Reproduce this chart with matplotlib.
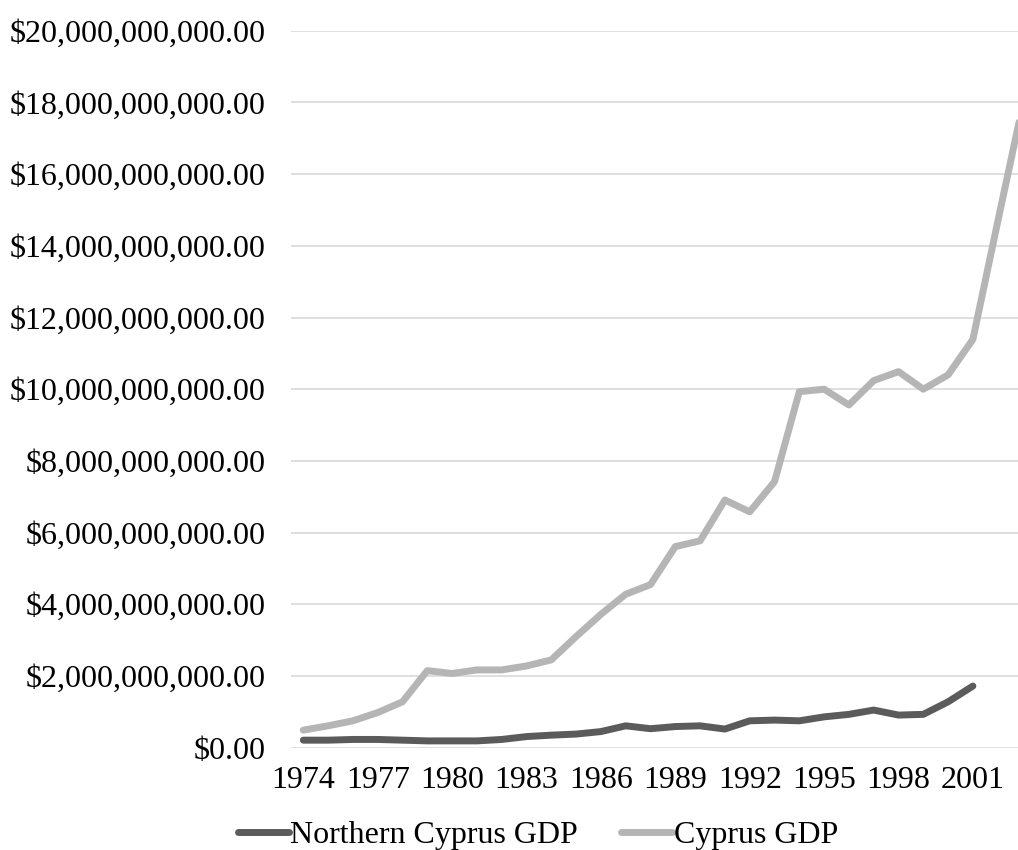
import matplotlib
matplotlib.use("Agg")
import matplotlib.pyplot as plt
from matplotlib.ticker import FuncFormatter, MultipleLocator

years = list(range(1974, 2004))

northern_cyprus_gdp = [
    0.21, 0.21, 0.23, 0.23, 0.21, 0.19, 0.19, 0.19, 0.23, 0.31,
    0.35, 0.38, 0.45, 0.61, 0.53, 0.59, 0.61, 0.52, 0.75, 0.77,
    0.75, 0.86, 0.93, 1.05, 0.91, 0.93, 1.28, 1.72, None, None,
]  # billions of USD

cyprus_gdp = [
    0.49, 0.61, 0.75, 0.98, 1.28, 2.15, 2.07, 2.17, 2.17, 2.28,
    2.45, 3.10, 3.72, 4.28, 4.55, 5.61, 5.77, 6.91, 6.58, 7.42,
    9.93, 10.00, 9.56, 10.24, 10.49, 10.00, 10.40, 11.39, 14.67, 17.90,
]  # billions of USD

tick_years = list(range(1974, 2004, 3))

plt.rcParams["font.family"] = ["Liberation Serif", "DejaVu Serif"]

fig = plt.figure(figsize=(10.18, 8.5), dpi=100)
W, H = 1018, 850
left_px, right_px = 290.9, 1034.9
bottom_px, top_px = 747.7, 30.7
ax = fig.add_axes([left_px / W, 1 - bottom_px / H,
                   (right_px - left_px) / W, (bottom_px - top_px) / H])

nc_x = [y for y, v in zip(years, northern_cyprus_gdp) if v is not None]
nc_y = [v * 1e9 for v in northern_cyprus_gdp if v is not None]
cy_y = [v * 1e9 for v in cyprus_gdp]

line_kw = dict(linewidth=5.0, solid_capstyle="round", solid_joinstyle="round")
ax.plot(nc_x, nc_y, color="#5b5b5b", label="Northern Cyprus GDP", zorder=3, **line_kw)
ax.plot(years, cy_y, color="#b5b5b5", label="Cyprus GDP", zorder=3, **line_kw)

ax.set_xlim(1973.5, 2003.5)
ax.set_ylim(0, 20e9)
ax.yaxis.set_major_locator(MultipleLocator(2e9))
ax.yaxis.set_major_formatter(FuncFormatter(lambda v, p: f"${v:,.2f}"))
ax.set_xticks(tick_years)
ax.set_xticklabels([str(y) for y in tick_years])

ax.grid(axis="y", color="#d9d9d9", linewidth=1.2, zorder=0)
ax.set_axisbelow(True)
for s in ax.spines.values():
    s.set_visible(False)
ax.tick_params(axis="both", length=0, labelsize=23, colors="black")
ax.tick_params(axis="y", pad=18)
ax.tick_params(axis="x", pad=13.5)

fig.legend(loc="center", bbox_to_anchor=(538 / W, 1 - 835 / H), ncol=2,
           frameon=False, fontsize=23, handlelength=1.6, handletextpad=0.05,
           columnspacing=1.35, borderpad=0.0)

fig.savefig("out.png", dpi=100)
